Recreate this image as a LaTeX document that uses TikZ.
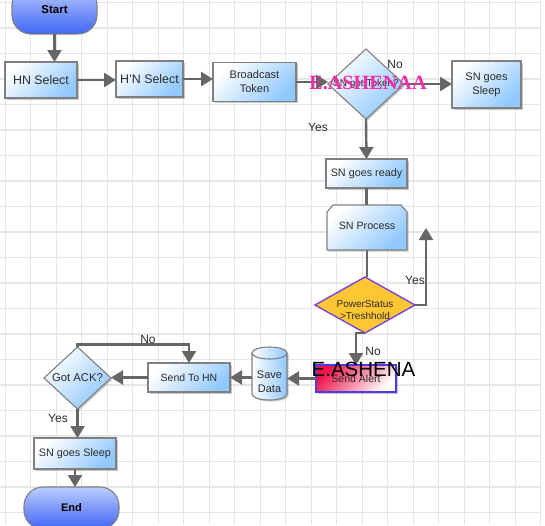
\documentclass[tikz,border=0pt]{standalone}
\usepackage{fontspec}
\setmainfont{Liberation Sans}
\newfontfamily\wmserif{Liberation Serif}
\usetikzlibrary{arrows.meta,shapes.geometric,shadows}
\definecolor{gridc}{HTML}{E6E6E6}
\definecolor{boxborder}{HTML}{808080}
\definecolor{boxblue}{HTML}{90C8FF}
\definecolor{pilltop}{HTML}{BCCDFF}
\definecolor{pillbot}{HTML}{3F65F5}
\definecolor{linec}{HTML}{666666}
\definecolor{txtc}{HTML}{2A2A2A}
\definecolor{pwfill}{HTML}{FFC633}
\definecolor{pwborder}{HTML}{7A44E0}
\definecolor{alertred}{HTML}{F0124A}
\definecolor{alertborder}{HTML}{4B3BE8}
\definecolor{wmmag}{HTML}{EE2EA8}
\begin{document}
\begin{tikzpicture}[x=1pt,y=-1pt,
  box/.style={draw=boxborder, line width=1.1pt, left color=white, right color=boxblue, shading angle=45,
    inner sep=0pt, outer sep=0pt, align=center, text=txtc, font=\fontsize{11}{14}\selectfont,
    drop shadow={shadow xshift=1.5pt, shadow yshift=-1.5pt, opacity=0.3, fill=black!70}},
  dia/.style={box, diamond, aspect=1},
  pill/.style={draw=boxborder, line width=1.1pt, top color=pilltop, bottom color=pillbot, rounded corners=19pt,
    inner sep=0pt, outer sep=0pt, font=\bfseries\fontsize{11.5}{14}\selectfont, text=black},
  conn/.style={draw=linec, line width=2.4pt, -{Triangle[width=14pt,length=12pt]}},
  plain/.style={draw=linec, line width=2.4pt},
  lbl/.style={font=\fontsize{12}{14}\selectfont, text=txtc, inner sep=0pt},
  intext/.style={align=center, text=txtc, inner sep=0pt},
  shapeonly/.style={draw=none, inner sep=0pt, outer sep=0pt},
]
\useasboundingbox (0,0) rectangle (545,525);
\clip (0,0) rectangle (545,525);
\fill[white] (0,0) rectangle (545,525);
\foreach \i in {0,...,21} \draw[gridc, line width=1.2pt] (5.3+25.5*\i,0) -- (5.3+25.5*\i,525);
\foreach \j in {0,...,20} \draw[gridc, line width=1.2pt] (0,2.5+25.5*\j) -- (541,2.5+25.5*\j);

% nodes
\node[pill, minimum width=85pt, minimum height=48pt] (start) at (54.5,10) {Start};
\node[box, minimum width=72pt, minimum height=36pt, font=\fontsize{12.4}{14}\selectfont] (hn) at (41,80) {HN Select};
\node[box, minimum width=67pt, minimum height=36pt, font=\fontsize{12.4}{14}\selectfont] (hn2) at (149.5,79) {H'N Select};
\node[box, minimum width=83pt, minimum height=39pt] (bc) at (254.5,82) {Broadcast\\Token};
\node[dia, minimum width=76pt, minimum height=70pt] (tok) at (366,84) {};
\node[intext, font=\fontsize{10}{12}\selectfont] at (tok) {SN got Token?};
\node[box, minimum width=69pt, minimum height=47pt] (sl) at (486.5,84.5) {SN goes\\Sleep};
\node[box, minimum width=81pt, minimum height=29pt, font=\fontsize{10.8}{13}\selectfont] (ready) at (366.5,173.5) {SN goes ready};
\node[shapeonly, minimum width=80pt, minimum height=45pt] (proc) at (367,227.5) {};
\path[draw=boxborder, line width=1.1pt, left color=white, right color=boxblue, shading angle=45,
    drop shadow={shadow xshift=1.5pt, shadow yshift=-1.5pt, opacity=0.3, fill=black!70}]
  ([xshift=6pt]proc.north west) -- ([xshift=-6pt]proc.north east) -- ([yshift=-7pt]proc.north east)
  -- (proc.south east) -- (proc.south west) -- ([yshift=-7pt]proc.north west) -- cycle;
\node[intext, font=\fontsize{10.7}{13}\selectfont] at (367,226) {SN Process};
\node[diamond, aspect=1, draw=pwborder, line width=1.4pt, fill=pwfill, inner sep=0pt, outer sep=0pt,
  minimum width=100pt, minimum height=56pt] (pw) at (365,305) {};
\node[intext, font=\fontsize{10}{12}\selectfont] at (365,310) {PowerStatus\\>Treshhold};
\node[draw=alertborder, line width=1.2pt, left color=alertred, right color=white, shading angle=45,
  inner sep=0pt, outer sep=0pt, minimum width=80pt, minimum height=27pt, text=txtc,
  font=\fontsize{10.5}{13}\selectfont,
  drop shadow={shadow xshift=1.5pt, shadow yshift=-1.5pt, opacity=0.3, fill=black!70}] (alert) at (356,378.5) {Send Alert};
% cylinder
\node[shapeonly, minimum width=35pt, minimum height=53pt] (save) at (269.5,373.5) {};
\path[draw=boxborder, line width=1.1pt, left color=white, right color=boxblue,
    drop shadow={shadow xshift=1.5pt, shadow yshift=-1.5pt, opacity=0.3, fill=black!70}]
  (252,353) -- (252,394) arc[start angle=180, end angle=0, x radius=17.5, y radius=6]
  -- (287,353) arc[start angle=0, end angle=-180, x radius=17.5, y radius=6] -- cycle;
\draw[boxborder, line width=1.1pt] (252,353) arc[start angle=180, end angle=0, x radius=17.5, y radius=6];
\node[intext, font=\fontsize{11}{14}\selectfont] at (269.5,382) {Save\\Data};
\node[box, minimum width=82pt, minimum height=29pt, font=\fontsize{10.5}{13}\selectfont] (send) at (189,377.5) {Send To HN};
\node[dia, minimum width=67pt, minimum height=62pt] (ack) at (77.5,378) {};
\node[intext, font=\fontsize{11.3}{13}\selectfont] at (ack) {Got ACK?};
\node[box, minimum width=82pt, minimum height=31pt, font=\fontsize{10.8}{13}\selectfont] (sl2) at (75,453.5) {SN goes Sleep};
\node[pill, minimum width=95pt, minimum height=42pt, font=\bfseries\fontsize{11}{14}\selectfont] (fin) at (71.5,508) {End};

% connectors
\draw[conn] (start.south) -- (start.south |- hn.north);
\draw[conn] (hn.east) -- (hn.east -| hn2.west);
\draw[conn] (hn2.east) -- (hn2.east -| bc.west);
\draw[conn] (bc.east) -- (bc.east -| tok.west);
\draw[conn] (tok.east) -- (tok.east -| sl.west);
\draw[conn] (tok.south) -- (ready.north);
\draw[plain] (ready.south) -- (ready.south |- proc.north);
\draw[plain] (proc.south) -- (proc.south |- pw.north);
\coordinate (yesend) at (426,228);
\draw[conn] (pw.east) -| (yesend);
\draw[conn] (pw.south) -| (alert.north);
\draw[conn] (alert.west) -- (alert.west -| save.east);
\draw[conn] (send.east -| save.west) -- (send.east);
\draw[conn] (send.west) -- (send.west -| ack.east);
\draw[conn] (ack.north) -- ++(0,-2.5) -| (send.north);
\draw[conn] (ack.south) -- (ack.south |- sl2.north);
\draw[conn] (sl2.south) -- (sl2.south |- fin.north);

% labels
\node[lbl] at (395,64) {No};
\node[lbl] at (318,127) {Yes};
\node[lbl] at (415,280) {Yes};
\node[lbl] at (373,351) {No};
\node[lbl] at (148,339) {No};
\node[lbl] at (58,418) {Yes};

% overlays
\node[font=\wmserif\bfseries\fontsize{20.2}{22}\selectfont, text=wmmag, inner sep=0pt] at (368,82.5) {E.ASHENAA};
\node[font=\fontsize{20.5}{22}\selectfont, text=black, inner sep=0pt] at (363.5,369) {E.ASHENA};
\end{tikzpicture}
\end{document}
